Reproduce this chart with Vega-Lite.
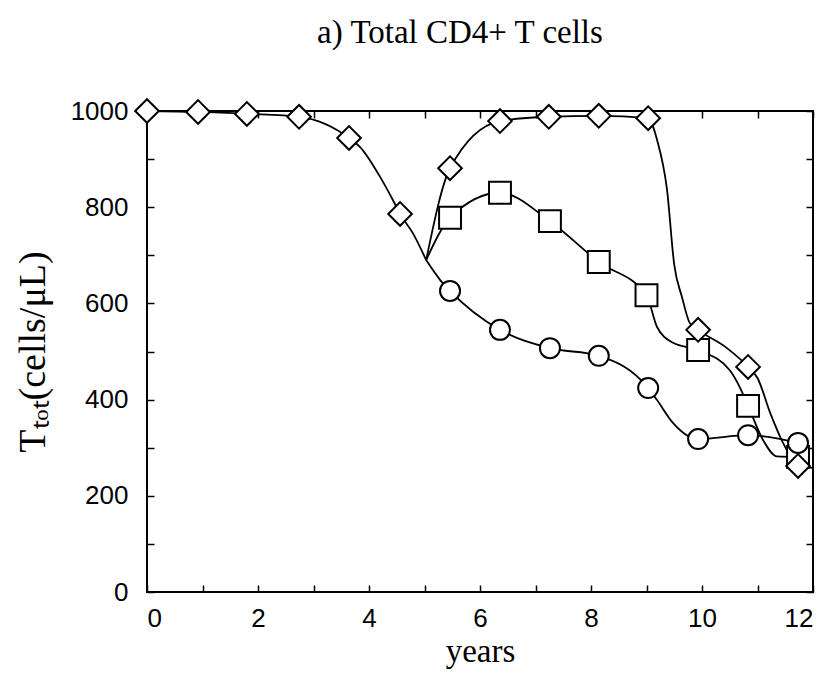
{
  "$schema": "https://vega.github.io/schema/vega-lite/v6.json",
  "width": 666,
  "height": 481,
  "autosize": "none",
  "padding": {"left": 147, "top": 111, "right": 21, "bottom": 85},
  "background": "white",
  "title": {
    "text": "a) Total CD4+ T cells",
    "font": "Liberation Serif",
    "fontSize": 33,
    "fontWeight": "normal",
    "color": "black",
    "anchor": "middle",
    "offset": 45,
    "dx": -20
  },
  "config": {
    "view": {"stroke": "black", "strokeWidth": 2},
    "axis": {
      "domain": false,
      "grid": false,
      "ticks": true,
      "tickColor": "black",
      "tickWidth": 1.5,
      "tickSize": -7,
      "labelFont": "Liberation Sans",
      "labelFontSize": 26,
      "labelColor": "black",
      "titleFont": "Liberation Serif",
      "titleFontWeight": "normal",
      "titleColor": "black"
    }
  },
  "datasets": {
    "lines": [
      {"branch": "base", "t": 0, "cells": 1000},
      {"branch": "base", "t": 0.92, "cells": 998},
      {"branch": "base", "t": 1.8, "cells": 994},
      {"branch": "base", "t": 2.74, "cells": 988},
      {"branch": "base", "t": 3.64, "cells": 944},
      {"branch": "base", "t": 3.84, "cells": 925},
      {"branch": "base", "t": 4.2, "cells": 863},
      {"branch": "base", "t": 4.43, "cells": 815},
      {"branch": "base", "t": 4.56, "cells": 786},
      {"branch": "base", "t": 4.79, "cells": 746},
      {"branch": "base", "t": 5.03, "cells": 690},
      {"branch": "diamond", "t": 5.03, "cells": 690},
      {"branch": "diamond", "t": 5.46, "cells": 881},
      {"branch": "diamond", "t": 6.36, "cells": 979},
      {"branch": "diamond", "t": 7.24, "cells": 988},
      {"branch": "diamond", "t": 8.14, "cells": 990},
      {"branch": "diamond", "t": 9.03, "cells": 985},
      {"branch": "diamond", "t": 9.19, "cells": 940},
      {"branch": "diamond", "t": 9.37, "cells": 836},
      {"branch": "diamond", "t": 9.5, "cells": 680},
      {"branch": "diamond", "t": 9.64, "cells": 613},
      {"branch": "diamond", "t": 9.78, "cells": 559},
      {"branch": "diamond", "t": 9.93, "cells": 545},
      {"branch": "diamond", "t": 10.45, "cells": 507},
      {"branch": "diamond", "t": 10.83, "cells": 468},
      {"branch": "diamond", "t": 11.0, "cells": 445},
      {"branch": "diamond", "t": 11.23, "cells": 372},
      {"branch": "diamond", "t": 11.46, "cells": 310},
      {"branch": "diamond", "t": 11.64, "cells": 274},
      {"branch": "diamond", "t": 11.73, "cells": 262},
      {"branch": "diamond", "t": 12, "cells": 258},
      {"branch": "square", "t": 5.03, "cells": 690},
      {"branch": "square", "t": 5.46, "cells": 778},
      {"branch": "square", "t": 6.36, "cells": 830},
      {"branch": "square", "t": 7.26, "cells": 771},
      {"branch": "square", "t": 8.14, "cells": 686},
      {"branch": "square", "t": 9.0, "cells": 617},
      {"branch": "square", "t": 9.19, "cells": 551},
      {"branch": "square", "t": 9.48, "cells": 518},
      {"branch": "square", "t": 9.93, "cells": 503},
      {"branch": "square", "t": 10.5, "cells": 461},
      {"branch": "square", "t": 10.68, "cells": 426},
      {"branch": "square", "t": 10.83, "cells": 387},
      {"branch": "square", "t": 11.1, "cells": 316},
      {"branch": "square", "t": 11.35, "cells": 282},
      {"branch": "square", "t": 11.73, "cells": 281},
      {"branch": "circle", "t": 5.03, "cells": 690},
      {"branch": "circle", "t": 5.28, "cells": 649},
      {"branch": "circle", "t": 5.46, "cells": 626},
      {"branch": "circle", "t": 6.36, "cells": 545},
      {"branch": "circle", "t": 7.26, "cells": 507},
      {"branch": "circle", "t": 8.14, "cells": 491},
      {"branch": "circle", "t": 9.03, "cells": 424},
      {"branch": "circle", "t": 9.19, "cells": 399},
      {"branch": "circle", "t": 9.48, "cells": 351},
      {"branch": "circle", "t": 9.93, "cells": 318},
      {"branch": "circle", "t": 10.83, "cells": 326},
      {"branch": "circle", "t": 11.73, "cells": 310}
    ],
    "markers": [
      {"series": "square", "t": 5.46, "cells": 778},
      {"series": "square", "t": 6.36, "cells": 830},
      {"series": "square", "t": 7.26, "cells": 771},
      {"series": "square", "t": 8.14, "cells": 686},
      {"series": "square", "t": 9.0, "cells": 617},
      {"series": "square", "t": 9.93, "cells": 503},
      {"series": "square", "t": 10.83, "cells": 387},
      {"series": "square", "t": 11.73, "cells": 281},
      {"series": "circle", "t": 5.46, "cells": 626},
      {"series": "circle", "t": 6.36, "cells": 545},
      {"series": "circle", "t": 7.26, "cells": 507},
      {"series": "circle", "t": 8.14, "cells": 491},
      {"series": "circle", "t": 9.03, "cells": 424},
      {"series": "circle", "t": 9.93, "cells": 318},
      {"series": "circle", "t": 10.83, "cells": 326},
      {"series": "circle", "t": 11.73, "cells": 310},
      {"series": "diamond", "t": 0, "cells": 1000},
      {"series": "diamond", "t": 0.92, "cells": 998},
      {"series": "diamond", "t": 1.8, "cells": 994},
      {"series": "diamond", "t": 2.74, "cells": 988},
      {"series": "diamond", "t": 3.64, "cells": 944},
      {"series": "diamond", "t": 4.56, "cells": 786},
      {"series": "diamond", "t": 5.46, "cells": 881},
      {"series": "diamond", "t": 6.36, "cells": 979},
      {"series": "diamond", "t": 7.24, "cells": 988},
      {"series": "diamond", "t": 8.14, "cells": 990},
      {"series": "diamond", "t": 9.03, "cells": 985},
      {"series": "diamond", "t": 9.93, "cells": 545},
      {"series": "diamond", "t": 10.83, "cells": 468},
      {"series": "diamond", "t": 11.73, "cells": 262}
    ]
  },
  "resolve": {"axis": {"x": "independent", "y": "independent"}},
  "layer": [
    {
      "data": {"name": "lines"},
      "mark": {"type": "line", "interpolate": "monotone", "color": "black", "strokeWidth": 1.8, "clip": false},
      "encoding": {
        "x": {
          "field": "t", "type": "quantitative",
          "scale": {"domain": [0, 12], "nice": false, "zero": false},
          "axis": {
            "orient": "bottom",
            "title": "years",
            "titleFontSize": 33,
            "values": [0, 1, 2, 3, 4, 5, 6, 7, 8, 9, 10, 11, 12],
            "labelExpr": "datum.value % 2 === 0 ? datum.label : ''",
            "labelPadding": 20,
            "titlePadding": 4
          }
        },
        "y": {
          "field": "cells", "type": "quantitative",
          "scale": {"domain": [0, 1000], "nice": false},
          "axis": {
            "orient": "left",
            "title": "Tₜₒₜ(cells/μL)",
            "titleFontSize": 38,
            "values": [0, 100, 200, 300, 400, 500, 600, 700, 800, 900, 1000],
            "labelExpr": "datum.value % 200 === 0 ? datum.label : ''",
            "format": "d",
            "labelPadding": 26,
            "titlePadding": 18
          }
        },
        "detail": {"field": "branch"}
      }
    },
    {
      "data": {"name": "markers"},
      "mark": {"type": "point", "filled": true, "fill": "white", "stroke": "black", "strokeWidth": 2, "opacity": 1, "clip": false},
      "encoding": {
        "x": {
          "field": "t", "type": "quantitative",
          "axis": {
            "orient": "top", "title": null, "labels": false,
            "values": [0, 1, 2, 3, 4, 5, 6, 7, 8, 9, 10, 11, 12]
          }
        },
        "y": {
          "field": "cells", "type": "quantitative",
          "axis": {
            "orient": "right", "title": null, "labels": false,
            "values": [0, 100, 200, 300, 400, 500, 600, 700, 800, 900, 1000]
          }
        },
        "shape": {
          "field": "series", "type": "nominal",
          "scale": {"domain": ["diamond", "square", "circle"], "range": ["diamond", "square", "circle"]},
          "legend": null
        },
        "size": {
          "field": "series", "type": "nominal",
          "scale": {"domain": ["diamond", "square", "circle"], "range": [560, 400, 440]},
          "legend": null
        }
      }
    }
  ]
}
